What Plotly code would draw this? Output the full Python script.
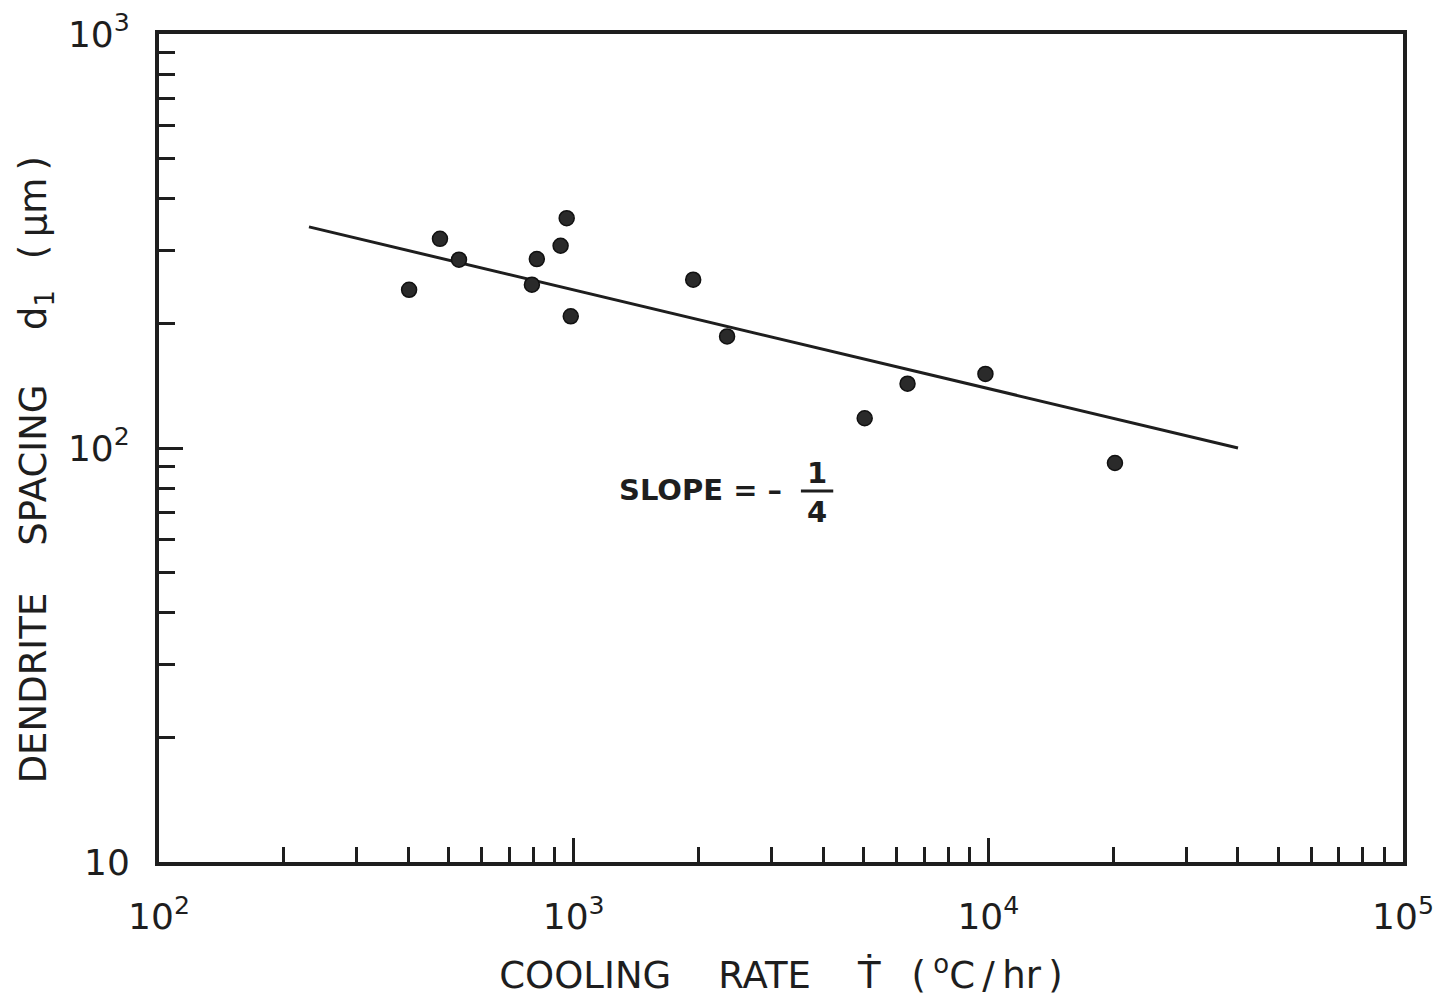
import plotly.graph_objects as go

# Data
cooling_rate = [401, 476, 529, 793, 815, 930, 962, 984, 1942, 2344, 5033, 6385, 9840, 20200]
spacing = [241, 320, 285, 248, 286, 308, 359, 208, 255, 186, 118, 143, 151, 92]
fit_x = [230, 40000]
fit_y = [342, 100]

x_major = [100, 1000, 10000, 100000]
x_major_text = ["10<sup>2</sup>", "10<sup>3</sup>", "10<sup>4</sup>", "10<sup>5</sup>"]
y_major = [10, 100, 1000]
y_major_text = ["10", "10<sup>2</sup>", "10<sup>3</sup>"]
x_minor = [m * d for d in [100, 1000, 10000] for m in range(2, 10)]
y_minor = [m * d for d in [10, 100] for m in range(2, 10)]

ink = "#1e1e1e"
font = "DejaVu Sans"
nb = "\u00a0"
th = "\u2009"

x_title = "COOLING" + nb * 3 + " RATE" + nb * 3 + " \u1e6a" + nb + th + " (" + th + "<sup>o</sup>C" + th + "/" + th + "hr" + th + ")"
y_title = "DENDRITE" + nb * 3 + " SPACING" + nb * 3 + th + " d<sub>1</sub>" + nb + th + " (" + th + "\u03bcm" + th + ")"

fig = go.Figure()
fig.add_trace(go.Scatter(x=fit_x, y=fit_y, mode="lines",
                         line=dict(color=ink, width=3), showlegend=False))
fig.add_trace(go.Scatter(x=cooling_rate, y=spacing, mode="markers",
                         marker=dict(size=15, color="#2a2a2a",
                                     line=dict(color="#111", width=1.5)),
                         showlegend=False))

fig.update_xaxes(type="log", range=[2, 5], showgrid=False, zeroline=False, automargin=False,
                 showline=True, linewidth=4, linecolor=ink, mirror=True,
                 tickvals=x_major, ticktext=x_major_text,
                 ticks="inside", ticklen=24, tickwidth=3, tickcolor=ink,
                 minor=dict(tickvals=x_minor, ticks="inside", ticklen=15,
                            tickwidth=2.5, tickcolor=ink),
                 tickfont=dict(family=font, size=36, color=ink),
                 ticklabelstandoff=20,
                 title=dict(text=x_title,
                            font=dict(family=font, size=37, color=ink), standoff=27))
fig.update_yaxes(type="log", range=[1, 3], showgrid=False, zeroline=False, automargin=False,
                 showline=True, linewidth=4, linecolor=ink, mirror=True,
                 tickvals=y_major, ticktext=y_major_text,
                 ticks="inside", ticklen=24, tickwidth=3, tickcolor=ink,
                 minor=dict(tickvals=y_minor, ticks="inside", ticklen=16,
                            tickwidth=2.5, tickcolor=ink),
                 tickfont=dict(family=font, size=36, color=ink),
                 ticklabelstandoff=18)

# y-axis title as a rotated annotation so it can sit exactly where the original does
fig.add_annotation(xref="paper", yref="paper", x=-0.099, y=0.474, xanchor="center", yanchor="middle",
                   text=y_title, textangle=-90, showarrow=False,
                   font=dict(family=font, size=37, color=ink))

fig.add_annotation(xref="paper", yref="paper", x=0.368, y=0.449, xanchor="left", yanchor="middle",
                   text="<b>SLOPE = \u2013</b>", showarrow=False,
                   font=dict(family=font, size=29, color=ink))
fig.add_annotation(xref="paper", yref="paper", x=0.529, y=0.470, xanchor="center", yanchor="middle",
                   text="<b>1</b>", showarrow=False, font=dict(family=font, size=29, color=ink))
fig.add_annotation(xref="paper", yref="paper", x=0.529, y=0.423, xanchor="center", yanchor="middle",
                   text="<b>4</b>", showarrow=False, font=dict(family=font, size=29, color=ink))
fig.add_shape(type="line", xref="paper", yref="paper", x0=0.516, x1=0.542, y0=0.448, y1=0.448,
              line=dict(color=ink, width=3))

fig.update_layout(width=1450, height=1000, plot_bgcolor="white", paper_bgcolor="white",
                  margin=dict(l=151, r=55, t=26, b=146, autoexpand=False))
fig.write_html("out.html")
